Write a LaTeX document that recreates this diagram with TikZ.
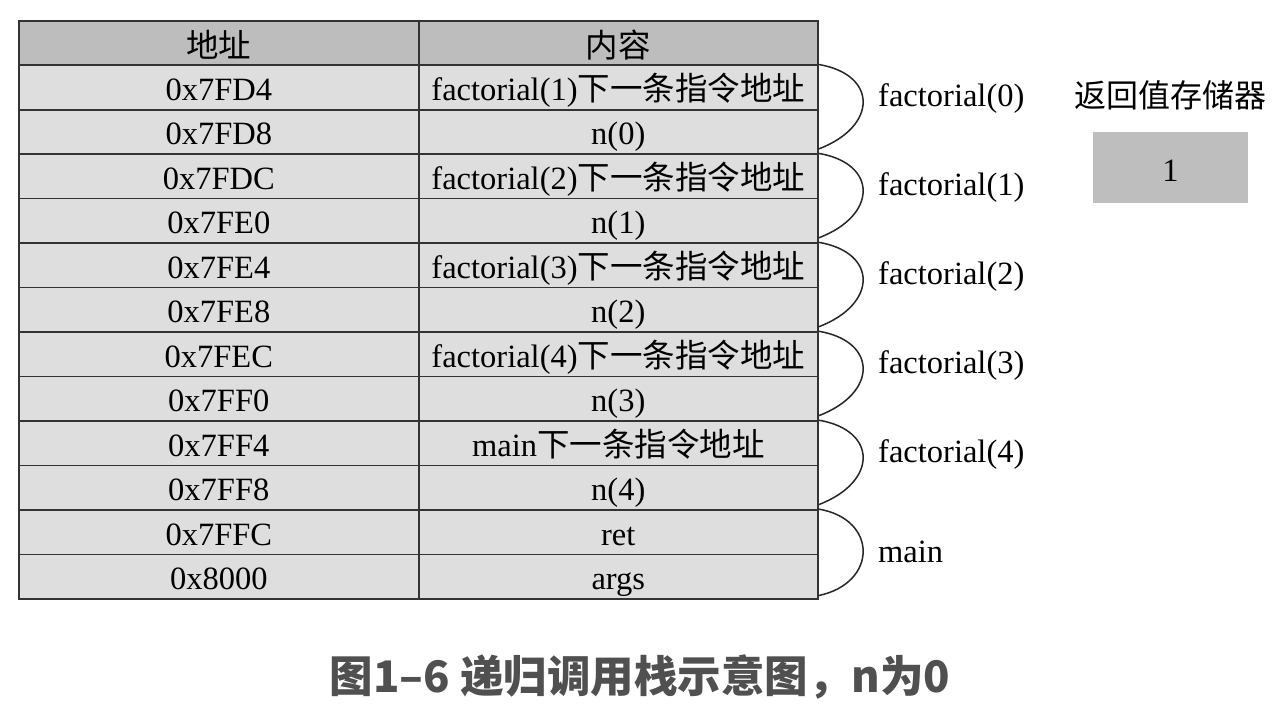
\documentclass[tikz,border=0pt]{standalone}
\usepackage{fontspec}
\setmainfont{Liberation Serif}
\newfontfamily\cjk{Noto Sans CJK SC}
\definecolor{hdrgray}{HTML}{BDBDBD}
\definecolor{rowgray}{HTML}{DEDEDE}
\definecolor{boxgray}{HTML}{BEBEBE}
\definecolor{linegray}{HTML}{333333}
\definecolor{capgray}{HTML}{505050}
\begin{document}
\begin{tikzpicture}[x=1pt,y=-1pt,
  cell/.style={draw=linegray, line width=1.6pt, fill=rowgray, minimum height=44.46pt,
    inner sep=0pt, anchor=north west, text height=26pt, text depth=0pt,
    font=\fontsize{32.5}{36}\selectfont},
  hdr/.style={cell, fill=hdrgray, text height=28pt},
  addrcell/.style={minimum width=400pt},
  contcell/.style={minimum width=399pt},
  brace/.style={draw=black!85, line width=1.5pt},
  lbl/.style={anchor=west, inner sep=0pt, font=\fontsize{32.5}{36}\selectfont}]
\useasboundingbox (0,0) rectangle (1274,712);
\fill[white] (0,0) rectangle (1274,712);
% header
\node[hdr, addrcell] (a0) at (18,20) {\cjk 地址};
\node[hdr, contcell] (c0) at (418,20) {\cjk 内容};
% rows
\foreach \i/\addr/\cont in {
  1/0x7FD4/{factorial(1){\cjk 下一条指令地址}},
  2/0x7FD8/{n(0)},
  3/0x7FDC/{factorial(2){\cjk 下一条指令地址}},
  4/0x7FE0/{n(1)},
  5/0x7FE4/{factorial(3){\cjk 下一条指令地址}},
  6/0x7FE8/{n(2)},
  7/0x7FEC/{factorial(4){\cjk 下一条指令地址}},
  8/0x7FF0/{n(3)},
  9/0x7FF4/{main{\cjk 下一条指令地址}},
  10/0x7FF8/{n(4)},
  11/0x7FFC/{ret},
  12/0x8000/{args}}{
  \node[cell, addrcell] (a\i) at (18,{20+\i*44.46}) {\addr};
  \node[cell, contcell] (c\i) at (418,{20+\i*44.46}) {\cont};
}
% braces and frame labels
\foreach \j/\lab in {1/factorial(0),3/factorial(1),5/factorial(2),7/factorial(3),9/factorial(4)}{
  \pgfmathsetmacro{\t}{20+\j*44.46}
  \pgfmathtruncatemacro{\k}{\j+1}
  \draw[brace] (c\j.north east) .. controls (878,{\t+10}) and (878,{\t+62}) .. ([yshift=6pt]c\k.south east);
  \node[lbl] (f\j) at (878,{\t+34}) {\lab};
}
\pgfmathsetmacro{\t}{20+11*44.46}
\draw[brace] (c11.north east) .. controls (878,{\t+10}) and (878,{\t+74}) .. ([yshift=4pt]c12.south east);
\node[lbl] (fm) at (878,{\t+43}) {main};
% return value register
\node[font=\fontsize{32}{36}\selectfont\cjk, inner sep=0pt] (rl) at (1170,95) {返回值存储器};
\node[fill=boxgray, minimum width=155pt, minimum height=71pt, inner sep=0pt,
  text height=28pt, text depth=0pt,
  font=\fontsize{32.5}{36}\selectfont] (rv) at (1170.5,167.5) {1};
% caption
\node[text=capgray, font=\fontsize{43.5}{48}\selectfont\cjk\bfseries, inner sep=0pt] (cap) at (640,677)
  {图1–6 递归调用栈示意图，n为0};
\end{tikzpicture}
\end{document}
